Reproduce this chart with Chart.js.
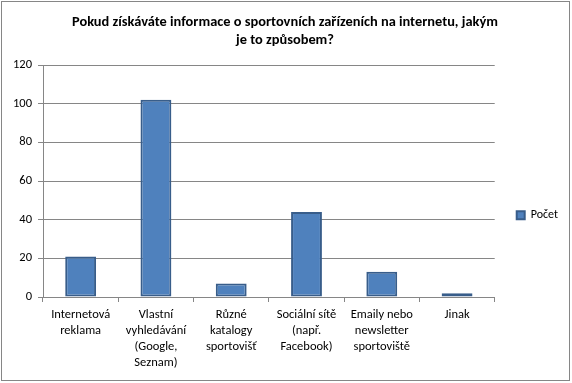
<!DOCTYPE html>
<html>
<head>
<meta charset="utf-8">
<script src="https://cdn.jsdelivr.net/npm/chart.js@4/dist/chart.umd.min.js"></script>
<style>
html,body{margin:0;padding:0;background:#fff;}
#wrap{width:572px;height:383px;position:relative;}
</style>
</head>
<body>
<div id="wrap"><canvas id="c" width="572" height="383"></canvas></div>
<script>
const titleLines = ['Pokud získáváte informace o sportovních zařízeních na internetu, jakým', 'je to způsobem?'];
const categories = [
  ['Internetová', 'reklama'],
  ['Vlastní', 'vyhledávání', '(Google,', 'Seznam)'],
  ['Různé', 'katalogy', 'sportovišť'],
  ['Sociální sítě', '(např.', 'Facebook)'],
  ['Emaily nebo', 'newsletter', 'sportoviště'],
  ['Jinak']
];
const seriesName = 'Počet';
const seriesValues = [21, 102, 7, 44, 13, 2];
const yMin = 0, yMax = 120, yStep = 20;

const FONT = "Carlito, Lato, 'Open Sans', sans-serif";

const frame = {
  id: 'frame',
  beforeDraw(chart) {
    const ctx = chart.ctx;
    ctx.save();
    ctx.fillStyle = '#fff';
    ctx.fillRect(0, 0, chart.width, chart.height);
    ctx.strokeStyle = '#868686';
    ctx.lineWidth = 1;
    ctx.strokeRect(1.5, 1.5, chart.width - 4, chart.height - 4);
    ctx.restore();
  }
};

new Chart(document.getElementById('c'), {
  type: 'bar',
  data: {
    labels: categories,
    datasets: [{
      label: seriesName,
      data: seriesValues,
      backgroundColor: '#4F81BD',
      borderColor: '#385D8A',
      borderWidth: 2,
      borderSkipped: false,
      barPercentage: 0.41,
      categoryPercentage: 1
    }]
  },
  options: {
    responsive: false,
    animation: false,
    devicePixelRatio: 1,
    layout: { padding: { left: 2, top: 9, right: 4, bottom: 4 } },
    plugins: {
      title: {
        display: true,
        text: titleLines,
        color: '#000',
        font: { family: FONT, size: 14.4, weight: 'bold', lineHeight: 1.25 },
        padding: { top: 4, bottom: 16 }
      },
      legend: {
        position: 'right',
        title: { display: true, text: ' ', font: { size: 12 }, padding: { top: 28, bottom: 0 } },
        labels: {
          boxWidth: 8,
          boxHeight: 8,
          color: '#000',
          font: { family: FONT, size: 12 },
          padding: 22
        }
      },
      tooltip: { enabled: false }
    },
    scales: {
      x: {
        offset: true,
        grid: { display: true, drawOnChartArea: false, drawTicks: true, tickLength: 5, offset: true, color: '#868686' },
        border: { color: '#868686' },
        ticks: { color: '#000', font: { family: FONT, size: 12.5, lineHeight: 1.28 }, padding: 5, maxRotation: 0, autoSkip: false },
        afterFit(s) { s.height = 82; }
      },
      y: {
        min: yMin, max: yMax,
        grid: { color: '#868686', tickLength: 5 },
        border: { color: '#868686' },
        ticks: { stepSize: yStep, color: '#000', font: { family: FONT, size: 12.5 }, padding: 6 },
        afterFit(s) { s.width = 41; }
      }
    }
  },
  plugins: [frame]
});
</script>
</body>
</html>
